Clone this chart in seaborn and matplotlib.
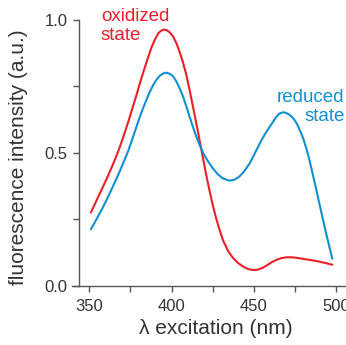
import matplotlib
matplotlib.use("Agg")
import matplotlib.pyplot as plt
import seaborn as sns
import pandas as pd

# Excitation spectra (normalised fluorescence intensity)
ox_wavelength = [351, 354, 357.5, 360.5, 363.6, 366, 368.6, 371, 373.7, 376, 378.8,
                 381, 383.8, 386, 387.9, 390, 391.9, 393.5, 395.3, 397, 399, 401,
                 403, 405, 407, 409, 411, 413, 414.5, 416.1, 417.5, 419.2, 421,
                 423.2, 425.3, 427.3, 429.3, 431.4, 434.4, 437.4, 440.5, 443.5,
                 446.5, 449.5, 452, 455, 458, 461, 464, 467, 470, 473, 476, 480,
                 484, 488, 493, 497.7]
ox_intensity = [0.276, 0.316, 0.362, 0.402, 0.445, 0.481, 0.523, 0.566, 0.617, 0.663,
                0.720, 0.767, 0.822, 0.864, 0.898, 0.928, 0.949, 0.959, 0.964, 0.962,
                0.953, 0.937, 0.912, 0.878, 0.840, 0.793, 0.736, 0.675, 0.628, 0.578,
                0.532, 0.478, 0.420, 0.355, 0.298, 0.250, 0.209, 0.170, 0.131, 0.105,
                0.086, 0.073, 0.064, 0.060, 0.061, 0.067, 0.078, 0.090, 0.099,
                0.105, 0.108, 0.108, 0.106, 0.102, 0.098, 0.094, 0.087, 0.080]

red_wavelength = [351, 354.5, 358, 361.5, 364.5, 367.6, 370.5, 373.7, 376.7, 379.7,
                  382.3, 384.8, 386.8, 388.8, 390.9, 393, 395, 397, 399, 401, 403,
                  405, 407, 409, 411, 413, 415, 417, 419.5, 422, 425, 428, 431, 435,
                  438, 441, 444, 447.5, 450.5, 453.6, 456.5, 459.7, 463.7, 465.5,
                  467.7, 469.5, 471.8, 474, 476, 478, 480, 482, 484, 486, 488, 490,
                  492, 494, 496, 497.7]
red_intensity = [0.213, 0.252, 0.292, 0.336, 0.376, 0.418, 0.460, 0.508, 0.562, 0.617,
                 0.662, 0.701, 0.730, 0.755, 0.776, 0.791, 0.799, 0.802, 0.797, 0.788,
                 0.768, 0.742, 0.712, 0.675, 0.636, 0.598, 0.562, 0.531, 0.497, 0.470,
                 0.443, 0.421, 0.405, 0.396, 0.399, 0.41, 0.43, 0.461, 0.497, 0.536,
                 0.568, 0.599, 0.636, 0.648, 0.653, 0.651, 0.643, 0.630, 0.612, 0.585,
                 0.555, 0.515, 0.468, 0.415, 0.361, 0.305, 0.250, 0.196, 0.145, 0.102]

x_ticks = [350, 375, 400, 425, 450, 475, 500]
x_ticklabels = ["350", "", "400", "", "450", "", "500"]
y_ticks = [0.0, 0.25, 0.5, 0.75, 1.0]
y_ticklabels = ["0.0", "", "0.5", "", "1.0"]

RED = "#e8202a"
BLUE = "#128fd0"
AXIS = "#555555"
TEXT = "#333333"

sns.set_style("ticks")
plt.rcParams["font.family"] = ["Liberation Sans", "DejaVu Sans"]

df = pd.concat([
    pd.DataFrame({"wavelength": ox_wavelength, "intensity": ox_intensity, "state": "oxidized"}),
    pd.DataFrame({"wavelength": red_wavelength, "intensity": red_intensity, "state": "reduced"}),
])

fig = plt.figure(figsize=(3.46, 3.45), dpi=100)
ax = fig.add_axes([0.208, 0.171, 0.792, 0.829])

sns.lineplot(data=df, x="wavelength", y="intensity", hue="state",
             palette={"oxidized": RED, "reduced": BLUE}, linewidth=1.5,
             legend=False, ax=ax, sort=False)

ax.set_xlim(339.5, 506)
ax.set_ylim(0, 1.075)

for side in ("top", "right"):
    ax.spines[side].set_visible(False)
ax.spines["left"].set_position(("data", 343.75))
ax.spines["left"].set_bounds(0, 1.0)
for side in ("left", "bottom"):
    ax.spines[side].set_color(AXIS)
    ax.spines[side].set_linewidth(1.0)

ax.set_xticks(x_ticks)
ax.set_xticklabels(x_ticklabels)
ax.set_yticks(y_ticks)
ax.set_yticklabels(y_ticklabels)
ax.tick_params(axis="both", direction="out", length=4.5, width=1.0, color=AXIS,
               labelcolor=TEXT, labelsize=12)
ax.tick_params(axis="x", pad=5)
ax.tick_params(axis="y", pad=3.5)

ax.set_xlabel("λ excitation (nm)", fontsize=15, color=TEXT)
ax.xaxis.set_label_coords(0.526, -0.115)
ax.set_ylabel("fluorescence intensity (a.u.)", fontsize=15, color=TEXT)
ax.yaxis.set_label_coords(-0.161, 0.449)

ax.text(357.1, 1.046, "oxidized\nstate", color=RED, fontsize=13.5, ha="left", va="top",
        linespacing=1.15)
ax.text(505.2, 0.741, "reduced\nstate", color=BLUE, fontsize=13.5, ha="right", va="top",
        linespacing=1.15)

fig.savefig("out.png", dpi=100)
